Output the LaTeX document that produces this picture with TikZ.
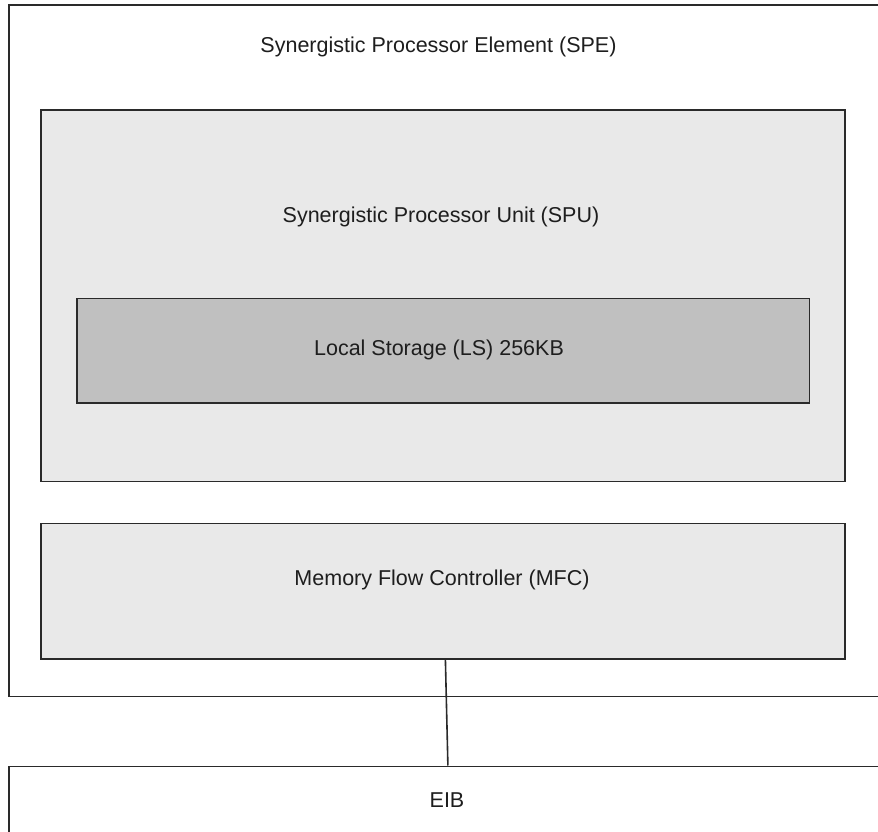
\documentclass[tikz,border=0pt]{standalone}
\usepackage{fontspec}
\setmainfont{Liberation Sans}
\definecolor{linec}{HTML}{2A2A2A}
\definecolor{textc}{HTML}{1E1E1E}
\definecolor{lightfill}{HTML}{E9E9E9}
\definecolor{darkfill}{HTML}{C0C0C0}
\begin{document}
\begin{tikzpicture}[x=1pt,y=-1pt,
  box/.style={draw=linec, line width=1.8pt, rectangle, inner sep=0pt, anchor=north west},
  lbl/.style={text=textc, font=\fontsize{21.5}{26}\selectfont, inner sep=0pt}]
\useasboundingbox (0,0) rectangle (878,832);
\begin{scope}
\clip (0,0) rectangle (878,832);
\node[box, fill=white, minimum width=874pt, minimum height=691pt] (spe) at (8,4.5) {};
\node[box, fill=lightfill, minimum width=804pt, minimum height=371pt] (spu) at (40,109.5) {};
\node[box, fill=darkfill, minimum width=732.5pt, minimum height=104.5pt] (ls) at (76,297.5) {};
\node[box, fill=lightfill, minimum width=804pt, minimum height=135.5pt] (mfc) at (40,522.5) {};
\node[box, fill=white, minimum width=874pt, minimum height=66pt] (eib) at (8,765.5) {};
\end{scope}
\node[lbl] (spet) at (438.5,47) {Synergistic Processor Element (SPE)};
\node[lbl] (sput) at (441,217) {Synergistic Processor Unit (SPU)};
\node[lbl] (lst) at (439,350) {Local Storage (LS) 256KB};
\node[lbl] (mfct) at (442,580) {Memory Flow Controller (MFC)};
\node[lbl] (eibt) at (447,800) {EIB};
\coordinate (c1) at ([xshift=2.5pt]mfc.south);
\coordinate (c2) at ([xshift=5pt]mfc.south |- eib.north);
\draw[draw=linec, line width=1.6pt] (c1) -- (c2);
\end{tikzpicture}
\end{document}
